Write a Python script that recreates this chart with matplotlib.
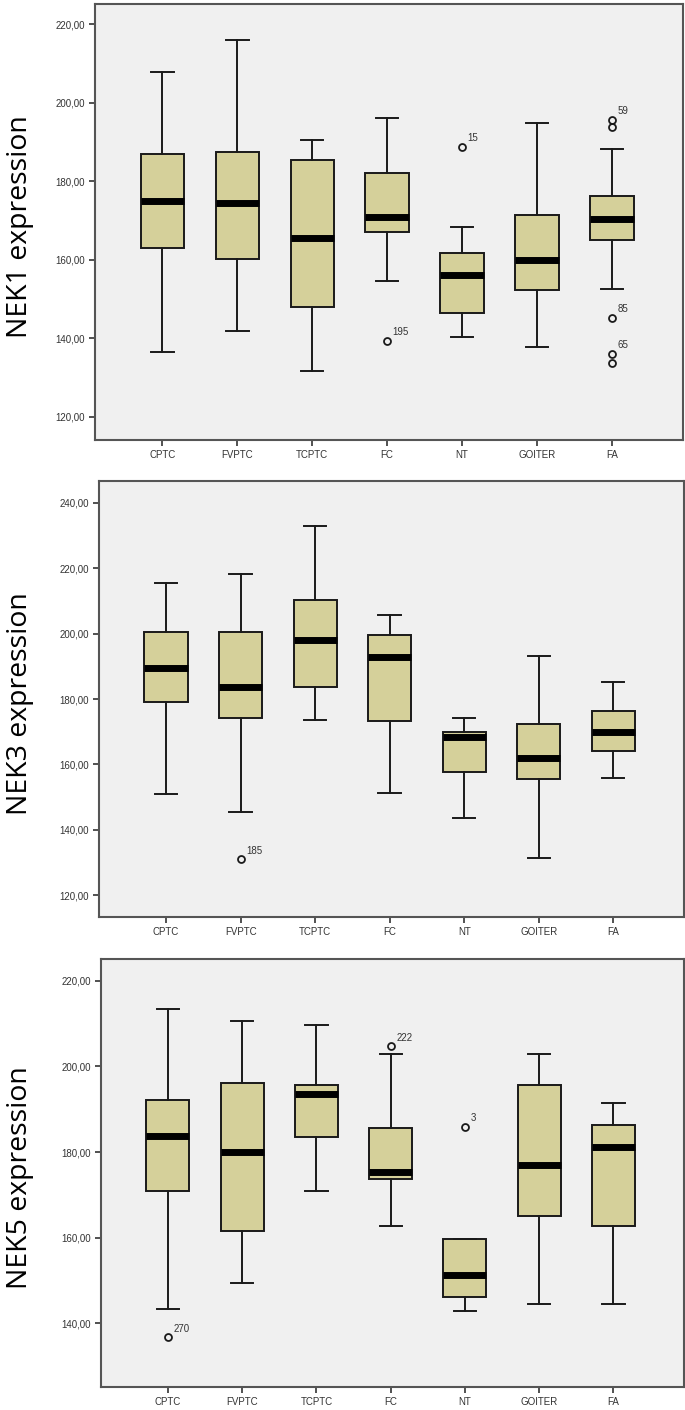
import matplotlib.pyplot as plt

groups = ['CPTC', 'FVPTC', 'TCPTC', 'FC', 'NT', 'GOITER', 'FA']

# NEK1
nek1_lo = [136.6, 141.8, 131.7, 154.6, 140.2, 137.7, 152.5]
nek1_q1 = [162.9, 160.1, 147.9, 167.1, 146.5, 152.2, 165.1]
nek1_med = [175.0, 174.5, 165.6, 170.8, 156.0, 159.8, 170.4]
nek1_q3 = [186.9, 187.4, 185.4, 182.0, 161.6, 171.3, 176.1]
nek1_hi = [207.7, 216.0, 190.6, 196.1, 168.4, 194.8, 188.1]
nek1_fliers = [[], [], [], [139.4], [188.8], [], [195.6, 193.7, 145.2, 136.1, 133.7]]
nek1_flier_ids = [[], [], [], ['195'], ['15'], [], ['59', '', '85', '65', '']]

# NEK3
nek3_lo = [151.1, 145.5, 173.7, 151.3, 143.6, 131.3, 155.8]
nek3_q1 = [179.2, 174.2, 183.7, 173.4, 157.8, 155.7, 164.2]
nek3_med = [189.4, 183.7, 198.1, 192.9, 168.3, 162.1, 169.8]
nek3_q3 = [200.6, 200.5, 210.3, 199.5, 169.9, 172.5, 176.3]
nek3_hi = [215.5, 218.3, 233.0, 205.8, 174.1, 193.2, 185.2]
nek3_fliers = [[], [131.0], [], [], [], [], []]
nek3_flier_ids = [[], ['185'], [], [], [], [], []]

# NEK5
nek5_lo = [143.4, 149.5, 171.0, 162.8, 142.9, 144.4, 144.5]
nek5_q1 = [170.8, 161.6, 183.4, 173.6, 146.1, 165.1, 162.8]
nek5_med = [183.8, 180.0, 193.6, 175.3, 151.3, 176.9, 181.2]
nek5_q3 = [192.2, 196.1, 195.7, 185.7, 159.6, 195.6, 186.3]
nek5_hi = [213.5, 210.7, 209.7, 203.0, 159.6, 202.9, 191.4]
nek5_fliers = [[136.7], [], [], [204.7], [185.9], [], []]
nek5_flier_ids = [['270'], [], [], ['222'], ['3'], [], []]

panels = [
    ('NEK1 expression', nek1_lo, nek1_q1, nek1_med, nek1_q3, nek1_hi, nek1_fliers, nek1_flier_ids,
     (114.1, 225.1), [120, 140, 160, 180, 200, 220]),
    ('NEK3 expression', nek3_lo, nek3_q1, nek3_med, nek3_q3, nek3_hi, nek3_fliers, nek3_flier_ids,
     (113.4, 246.6), [120, 140, 160, 180, 200, 220, 240]),
    ('NEK5 expression', nek5_lo, nek5_q1, nek5_med, nek5_q3, nek5_hi, nek5_fliers, nek5_flier_ids,
     (125.1, 225.1), [140, 160, 180, 200, 220]),
]

# axes rectangles in pixels (left, top, right, bottom) on a 685x1410 canvas
W, H = 685, 1410
rects = [(95, 4, 683, 440), (99, 481, 684, 917), (101, 959, 684, 1387)]

box_color = '#D5D09A'
bg_color = '#F0F0F0'
tick_font = ['Liberation Sans Narrow', 'Liberation Sans', 'DejaVu Sans']

fig = plt.figure(figsize=(W / 100, H / 100), dpi=100)

for (ylabel, lo, q1, med, q3, hi, fliers, ids, ylim, yticks), (l, t, r, b) in zip(panels, rects):
    ax = fig.add_axes([l / W, 1 - b / H, (r - l) / W, (b - t) / H])
    ax.set_facecolor(bg_color)

    stats = []
    for i, g in enumerate(groups):
        stats.append({'label': g, 'whislo': lo[i], 'q1': q1[i], 'med': med[i],
                      'q3': q3[i], 'whishi': hi[i], 'fliers': fliers[i]})

    ax.bxp(stats, positions=range(1, 8), widths=0.58, patch_artist=True,
           boxprops=dict(facecolor=box_color, edgecolor='#1a1a1a', linewidth=1.4),
           medianprops=dict(color='black', linewidth=5, solid_capstyle='butt'),
           whiskerprops=dict(color='#1a1a1a', linewidth=1.4),
           capprops=dict(color='#1a1a1a', linewidth=1.4),
           capwidths=0.3,
           flierprops=dict(marker='o', markerfacecolor='none', markeredgecolor='#1a1a1a',
                           markersize=5, markeredgewidth=1.3))

    # case numbers next to outliers
    for i in range(len(groups)):
        for v, lab in zip(fliers[i], ids[i]):
            if lab:
                ax.annotate(lab, (i + 1, v), xytext=(4, 4), textcoords='offset points',
                            fontsize=7, color='#333333', family=tick_font)

    ax.set_xlim(0.1, 7.95)
    ax.set_ylim(*ylim)
    ax.set_yticks(yticks)
    ax.set_yticklabels(['%d,00' % v for v in yticks])
    ax.set_xticks(range(1, 8))
    ax.set_xticklabels(groups)
    ax.tick_params(axis='both', labelsize=7, labelcolor='#333333', color='#333333',
                   length=4, width=1.2)
    for lbl in ax.get_xticklabels() + ax.get_yticklabels():
        lbl.set_family(tick_font)
    for s in ax.spines.values():
        s.set_color('#555555')
        s.set_linewidth(1.5)

    ax.set_ylabel(ylabel, fontsize=20.5, family=['Open Sans', 'DejaVu Sans'])
    # anchor is the right edge of the rotated label, ~34 px from the figure edge
    ax.yaxis.set_label_coords(-(l - 34) / (r - l), 0.49)

fig.savefig('out.png', dpi=100)
